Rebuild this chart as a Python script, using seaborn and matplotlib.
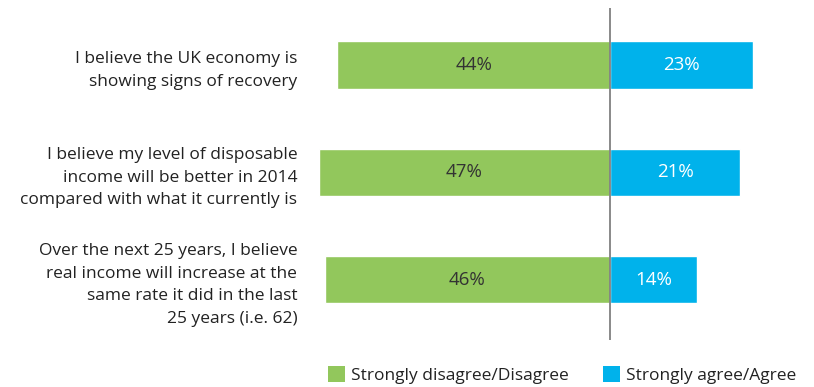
import matplotlib
matplotlib.use("Agg")
import matplotlib.pyplot as plt
import seaborn as sns
import pandas as pd
from matplotlib.patches import Patch

categories = [
    "I believe the UK economy is\nshowing signs of recovery",
    "I believe my level of disposable\nincome will be better in 2014\ncompared with what it currently is",
    "Over the next 25 years, I believe\nreal income will increase at the\nsame rate it did in the last\n25 years (i.e. 62)",
]
disagree = [44, 47, 46]
agree = [23, 21, 14]
series_names = ["Strongly disagree/Disagree", "Strongly agree/Agree"]
colors = ["#92C75C", "#00B2EB"]

sns.set_theme(style="white")
plt.rcParams["font.family"] = ["Open Sans", "DejaVu Sans"]

rows = []
for c, d, a in zip(categories, disagree, agree):
    rows.append({"category": c, "response": series_names[0], "value": -d})
    rows.append({"category": c, "response": series_names[1], "value": a})
df = pd.DataFrame(rows)

fig = plt.figure(figsize=(8.14, 3.87), dpi=100)
ax = fig.add_axes([300 / 814, 47 / 387, 500 / 814, 332 / 387])

sns.barplot(data=df, x="value", y="category", hue="response", order=categories,
            hue_order=series_names, palette=colors, dodge=False, width=0.44,
            orient="h", ax=ax, legend=False, saturation=1)

ax.set_xlim(-50, 30.6)
ax.set_ylim(2.56, -0.53)
ax.axvline(0, color="#808080", lw=1.3, zorder=5)

for i, (d, a) in enumerate(zip(disagree, agree)):
    ax.text(-d / 2, i, f"{d}%", ha="center", va="center", fontsize=13.5, color="#333333")
    ax.text(a / 2, i, f"{a}%", ha="center", va="center", fontsize=13.5, color="white")

ax.set_xlabel("")
ax.set_ylabel("")
ax.set_xticks([])
ax.tick_params(axis="y", length=0, pad=2, labelsize=12.5, labelcolor="#222222")
for lbl in ax.get_yticklabels():
    lbl.set_horizontalalignment("right")
    lbl.set_linespacing(1.55)
for s in ax.spines.values():
    s.set_visible(False)

handles = [Patch(facecolor=c, edgecolor="none") for c in colors]
fig.legend(handles, series_names, loc="center", bbox_to_anchor=(562 / 814, 1 - 375 / 387),
           ncol=2, frameon=False, fontsize=12.5, handlelength=1.0, handleheight=1.0,
           handletextpad=0.3, columnspacing=2.0, labelcolor="#222222")

fig.savefig("out.png", dpi=100)
